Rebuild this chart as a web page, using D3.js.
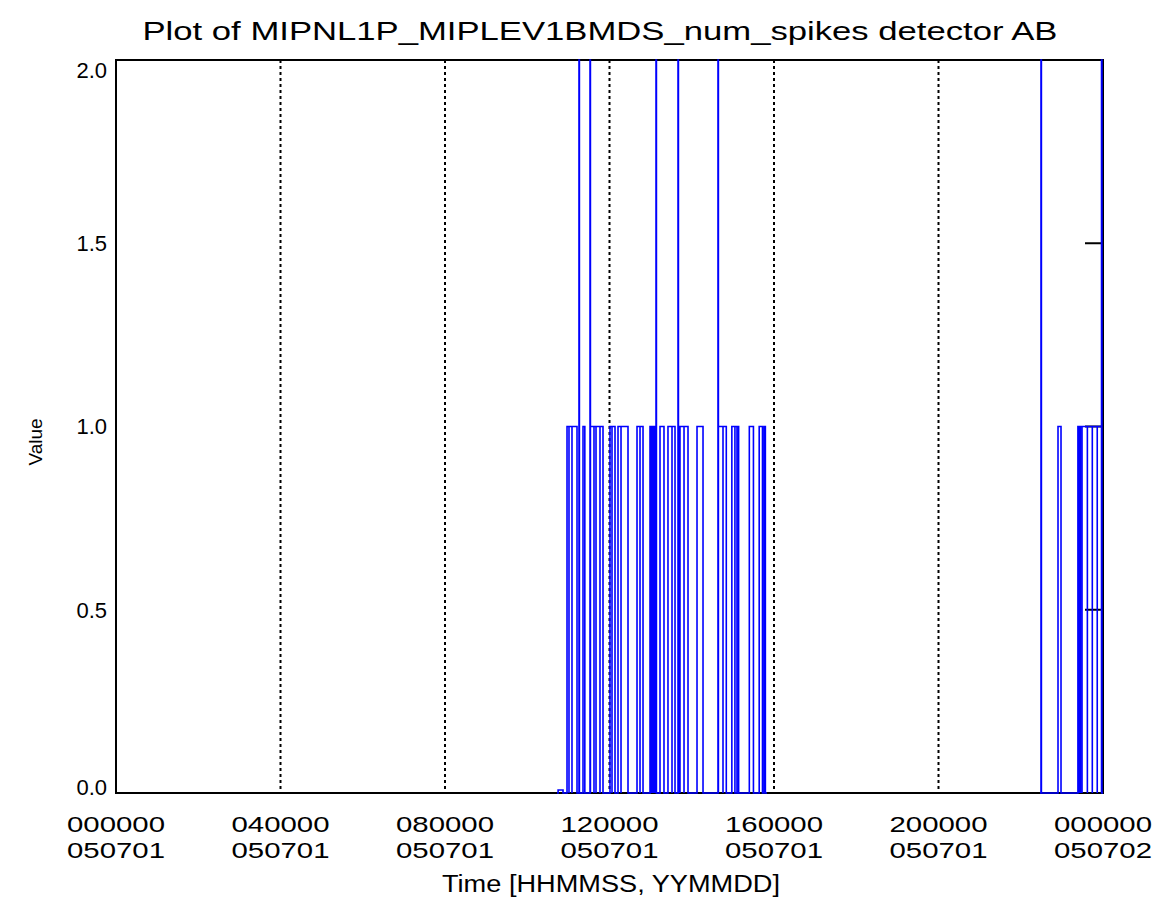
<!DOCTYPE html>
<html>
<head>
<meta charset="utf-8">
<script src="https://cdn.jsdelivr.net/npm/d3@7"></script>
<style>
  html, body { margin: 0; padding: 0; background: #fff; }
  svg { display: block; }
  text { font-family: "Liberation Sans", Arial, sans-serif; fill: #000; }
</style>
</head>
<body>
<div id="chart"></div>
<script>
// ---------------- data (time in decimal hours of 2005-07-01) ----------------
const chartTitle = "Plot of MIPNL1P_MIPLEV1BMDS_num_spikes detector AB";
const xTitle = "Time [HHMMSS, YYMMDD]";
const yTitle = "Value";

const xTickHours = [0, 4, 8, 12, 16, 20, 24];
const xTickTimes = ["000000", "040000", "080000", "120000", "160000", "200000", "000000"];
const xTickDates = ["050701", "050701", "050701", "050701", "050701", "050701", "050702"];
const yTickValues = [0, 0.5, 1.0, 1.5, 2.0];
const yTickLabels = ["0.0", "0.5", "1.0", "1.5", "2.0"];

// data coverage segments
const segmentStart = [10.724, 22.468];
const segmentEnd   = [15.830, 24.000];

// pulses: start hour, end hour, value
const pulseStart = [10.75, 10.967, 11.015, 11.088, 11.258, 11.356, 11.526, 11.536, 11.623, 11.672, 11.769,
  12.012, 12.061, 12.207, 12.280, 12.669, 12.742,
  12.985, 13.005, 13.025, 13.045, 13.065, 13.085, 13.105, 13.131,
  13.228, 13.422, 13.520, 13.666, 13.676, 13.714, 13.812, 14.128,
  14.638, 14.648, 14.760, 14.975, 15.050, 15.400, 15.640, 15.760,
  22.492, 22.906, 23.390, 23.420, 23.450, 23.490, 23.620, 23.740, 23.860, 23.964];
const pulseEnd = [10.87, 11.015, 11.088, 11.210, 11.268, 11.400, 11.536, 11.623, 11.672, 11.769, 11.842,
  12.061, 12.134, 12.280, 12.450, 12.742, 12.815,
  13.005, 13.025, 13.045, 13.065, 13.085, 13.105, 13.131, 13.141,
  13.325, 13.520, 13.593, 13.676, 13.714, 13.812, 13.909, 14.274,
  14.648, 14.760, 14.840, 15.140, 15.100, 15.500, 15.720, 15.790,
  22.502, 22.979, 23.420, 23.450, 23.490, 23.620, 23.740, 23.860, 23.964, 23.974];
const pulseValue = [0.008, 1, 1, 1, 2, 1, 2, 1, 1, 1, 1,
  1, 1, 1, 1, 1, 1,
  1, 1, 1, 1, 1, 1, 1, 2,
  1, 1, 1, 2, 1, 1, 1, 1,
  2, 1, 1, 1, 1, 1, 1, 1,
  2, 1, 1, 1, 1, 1, 1, 1, 1, 2];

// ---------------- layout ----------------
const W = 1160, H = 907;
const margin = { left: 116, right: 57, top: 60, bottom: 114 };
const svg = d3.select("#chart").append("svg").attr("width", W).attr("height", H);

const x = d3.scaleLinear().domain([0, 24]).range([margin.left, W - margin.right]);
const y = d3.scaleLinear().domain([0, 2]).range([H - margin.bottom, margin.top]);

svg.append("clipPath").attr("id", "plotclip").append("rect")
  .attr("x", x(0) - 1).attr("y", y(2) - 1)
  .attr("width", x(24) - x(0) + 2).attr("height", y(0) - y(2) + 2);

// dotted vertical grid at inner ticks
svg.append("g").selectAll("line")
  .data(xTickHours.slice(1, -1)).join("line")
  .attr("x1", d => x(d)).attr("x2", d => x(d))
  .attr("y1", y(2)).attr("y2", y(0))
  .attr("stroke", "#000").attr("stroke-width", 2)
  .attr("stroke-dasharray", "3,3");

// frame
svg.append("rect")
  .attr("x", x(0)).attr("y", y(2))
  .attr("width", x(24) - x(0)).attr("height", y(0) - y(2))
  .attr("fill", "none").attr("stroke", "#000").attr("stroke-width", 2);

// right inner ticks
svg.append("g").selectAll("line")
  .data(yTickValues.slice(1, -1)).join("line")
  .attr("x1", x(24) - 18).attr("x2", x(24))
  .attr("y1", d => y(d)).attr("y2", d => y(d))
  .attr("stroke", "#000").attr("stroke-width", 2);

// build data path points per segment
const pulses = pulseStart.map((s, i) => ({ s, e: pulseEnd[i], v: pulseValue[i] }));
const segPoints = segmentStart.map((s0, k) => {
  const e0 = segmentEnd[k];
  const pts = [[s0, 0]];
  pulses.filter(p => p.s >= s0 && p.s <= e0).sort((a, b) => a.s - b.s).forEach(p => {
    pts.push([p.s, 0], [p.s, p.v], [p.e, p.v], [p.e, 0]);
  });
  pts.push([e0, 0]);
  return pts;
});
const line = d3.line().x(d => x(d[0])).y(d => y(d[1]));
svg.append("g").attr("clip-path", "url(#plotclip)")
  .selectAll("path").data(segPoints).join("path")
  .attr("d", line)
  .attr("fill", "none").attr("stroke", "#0000ff")
  .attr("stroke-width", 1.6).attr("stroke-linejoin", "miter");

// y tick labels
svg.append("g").selectAll("text")
  .data(yTickValues).join("text")
  .attr("x", x(0) - 9)
  .attr("y", d => Math.min(Math.max(y(d), 70), 787))
  .attr("dy", "0.36em")
  .attr("text-anchor", "end")
  .attr("font-size", 22)
  .text((d, i) => yTickLabels[i]);

// x tick labels (two lines)
const xl = svg.append("g").selectAll("g").data(xTickHours).join("g");
xl.append("text")
  .attr("x", d => x(d)).attr("y", 824).attr("dy", "0.36em")
  .attr("text-anchor", "middle").attr("font-size", 22)
  .attr("textLength", 98).attr("lengthAdjust", "spacingAndGlyphs")
  .text((d, i) => xTickTimes[i]);
xl.append("text")
  .attr("x", d => x(d)).attr("y", 850).attr("dy", "0.36em")
  .attr("text-anchor", "middle").attr("font-size", 22)
  .attr("textLength", 98).attr("lengthAdjust", "spacingAndGlyphs")
  .text((d, i) => xTickDates[i]);

// titles
svg.append("text")
  .attr("x", 600).attr("y", 31).attr("dy", "0.36em")
  .attr("text-anchor", "middle").attr("font-size", 25)
  .attr("textLength", 915).attr("lengthAdjust", "spacingAndGlyphs")
  .text(chartTitle);

svg.append("text")
  .attr("x", 611).attr("y", 884).attr("dy", "0.36em")
  .attr("text-anchor", "middle").attr("font-size", 23)
  .attr("textLength", 338).attr("lengthAdjust", "spacingAndGlyphs")
  .text(xTitle);

svg.append("text")
  .attr("transform", "translate(35,442) rotate(-90)")
  .attr("dy", "0.36em")
  .attr("text-anchor", "middle").attr("font-size", 19)
  .text(yTitle);
</script>
</body>
</html>
